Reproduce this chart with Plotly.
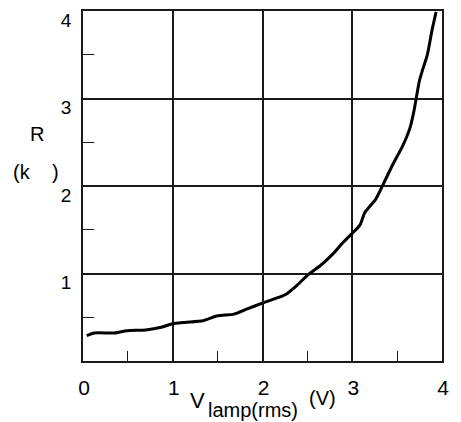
import plotly.graph_objects as go

# Lamp voltage (V rms) and resistance (kOhm)
v_lamp = [0.042, 0.128, 0.353, 0.491, 0.699, 0.872, 0.988, 1.134, 1.337, 1.498,
          1.681, 1.823, 2.005, 2.14, 2.258, 2.375, 2.512, 2.649, 2.785, 2.902,
          3.0, 3.087, 3.139, 3.262, 3.349, 3.453, 3.558, 3.645, 3.69, 3.714,
          3.749, 3.784, 3.837, 3.889, 3.934]
r_kohm = [0.29, 0.32, 0.32, 0.347, 0.355, 0.385, 0.423, 0.441, 0.46, 0.517,
          0.536, 0.593, 0.664, 0.713, 0.76, 0.856, 0.99, 1.094, 1.224, 1.36,
          1.459, 1.556, 1.694, 1.85, 2.028, 2.248, 2.449, 2.67, 2.87, 3.01,
          3.206, 3.328, 3.502, 3.781, 3.99]

x_tick_vals = [0, 1, 2, 3, 4]
x_tick_text = ["0", "1", "2", "3", "4"]
y_tick_vals = [1, 2, 3, 4]
y_tick_text = ["1", "2", "3", "4"]
minor_vals = [0.5, 1.5, 2.5, 3.5]

FONT = "Liberation Sans, Arial, sans-serif"

fig = go.Figure()
fig.add_trace(go.Scatter(
    x=v_lamp, y=r_kohm, mode="lines",
    line=dict(color="black", width=3, shape="spline", smoothing=0.6),
    showlegend=False, hoverinfo="skip",
))

axis_common = dict(
    showline=True, linecolor="#1a1a1a", linewidth=1.5, mirror=True,
    showgrid=True, gridcolor="#1a1a1a", gridwidth=1.5,
    zeroline=False, ticks="", tickmode="array",
)

fig.update_xaxes(
    range=[0, 4], tickvals=x_tick_vals, ticktext=x_tick_text,
    ticklabelstandoff=7, ticklabelshift=1,
    tickfont=dict(family=FONT, size=21, color="black"),
    minor=dict(ticks="inside", ticklen=10, tickcolor="#1a1a1a", tickwidth=1.2,
               tickvals=minor_vals, showgrid=False),
    **axis_common,
)
fig.update_yaxes(
    range=[0, 4], tickvals=y_tick_vals, ticktext=y_tick_text,
    ticklabelstandoff=6, ticklabelshift=9,
    tickfont=dict(family=FONT, size=19, color="black"),
    minor=dict(ticks="inside", ticklen=11, tickcolor="#1a1a1a", tickwidth=1.2,
               tickvals=minor_vals, showgrid=False),
    **axis_common,
)

L, R, T, B = 83, 19, 9, 61
W, H = 461, 422
pw, ph = W - L - R, H - T - B


def px(xp):
    return (xp - L) / pw


def py(yp):
    return (H - B - yp) / ph


annots = [
    dict(text="R", x=px(36.5), y=py(132.5), size=20, xanchor="center"),
    dict(text="(k\u00a0\u00a0\u00a0\u00a0)", x=px(36), y=py(171), size=20, xanchor="center"),
    dict(text="V", x=px(197.5), y=py(400.5), size=22, xanchor="center"),
    dict(text="lamp(rms)", x=px(206), y=py(410.5), size=20, xanchor="left"),
    dict(text="(V)", x=px(322.5), y=py(398), size=20, xanchor="center"),
]
for a in annots:
    fig.add_annotation(
        text=a["text"], x=a["x"], y=a["y"], xref="paper", yref="paper",
        xanchor=a["xanchor"], yanchor="middle", showarrow=False,
        font=dict(family=FONT, size=a["size"], color="black"),
    )

fig.update_layout(
    width=W, height=H,
    margin=dict(l=L, r=R, t=T, b=B, pad=0),
    paper_bgcolor="white", plot_bgcolor="white",
    font=dict(family=FONT, color="black"),
)

fig.write_html(
    "out.html",
    config={"displayModeBar": False},
    post_script="document.body.style.margin='0';document.body.style.padding='0';",
)
